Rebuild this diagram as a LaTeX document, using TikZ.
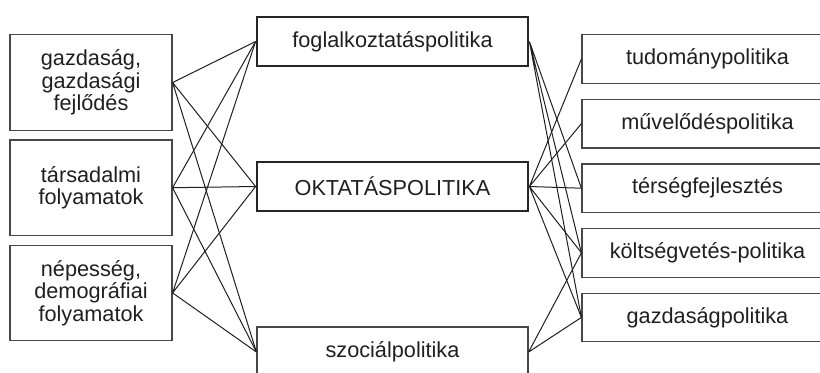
\documentclass[tikz,border=0pt]{standalone}
\usepackage{fontspec}
\setmainfont{Liberation Sans}
\usetikzlibrary{positioning}

\begin{document}
\begin{tikzpicture}[auto,node distance=52.6pt]
				\tikzstyle{every node}=[font=\fontsize{10.85}{11.3}\selectfont, text=black!88, inner sep=0pt]
				\tikzstyle{factor}=[draw=black!72, line width=0.6pt, minimum width=81pt, minimum height=47.8pt, align=center]
				\tikzstyle{policy}=[draw=black!72, line width=0.6pt, minimum width=135.5pt, minimum height=24.5pt]
				\tikzstyle{sector}=[draw=black!72, line width=0.6pt, minimum width=125.5pt, minimum height=24.3pt]
				\tikzstyle{link}=[draw=black!88, line width=0.5pt]
				\useasboundingbox (0,0) rectangle (410pt,-186pt);
				%Left Column
				\node[factor](gazd) at (45.5pt,-41.25pt){gazdaság,\\gazdasági\\fejlődés};
				\node[factor](tars)[below of = gazd]{társadalmi\\folyamatok};
				\node[factor](nep)[below of = tars]{népesség,\\demográfiai\\folyamatok};
				%Middle Column
				\node[policy, line width=1.4pt, draw=black!85](fogl) at (196.25pt,-20.75pt){foglalkoztatáspolitika};
				\node[policy, line width=1.4pt, draw=black!85](okt)[below of = fogl, node distance=72.5pt]{OKTATÁSPOLITIKA};
				\node[policy, minimum height=25pt](szoc)[below of = okt, node distance=82.75pt]{szociálpolitika};
				%Right Column
				\node[sector](tud) at (353.75pt,-29.5pt){tudománypolitika};
				\node[sector](muv)[below of = tud, node distance=32.3pt]{művelődéspolitika};
				\node[sector](ters)[below of = muv, node distance=32.3pt]{térségfejlesztés};
				\node[sector](kolt)[below of = ters, node distance=32.3pt]{költségvetés-politika};
				\node[sector](gpol)[below of = kolt, node distance=32.3pt]{gazdaságpolitika};
				%Left Links
				\draw[link] (gazd.east) -- (fogl.west) (gazd.east) -- (okt.west) (gazd.east) -- (szoc.west);
				\draw[link] (tars.east) -- (fogl.west) (tars.east) -- (okt.west) (tars.east) -- (szoc.west);
				\draw[link] (nep.east) -- (fogl.west) (nep.east) -- (okt.west) (nep.east) -- (szoc.west);
				%Right Links
				\draw[link] (fogl.east) -- (ters.west) (fogl.east) -- (kolt.west) (fogl.east) -- (gpol.west);
				\draw[link] (okt.east) -- (tud.west) (okt.east) -- (muv.west) (okt.east) -- (ters.west) (okt.east) -- (kolt.west) (okt.east) -- (gpol.west);
				\draw[link] (szoc.east) -- (kolt.west) (szoc.east) -- (gpol.west);
				\end{tikzpicture}
\end{document}
